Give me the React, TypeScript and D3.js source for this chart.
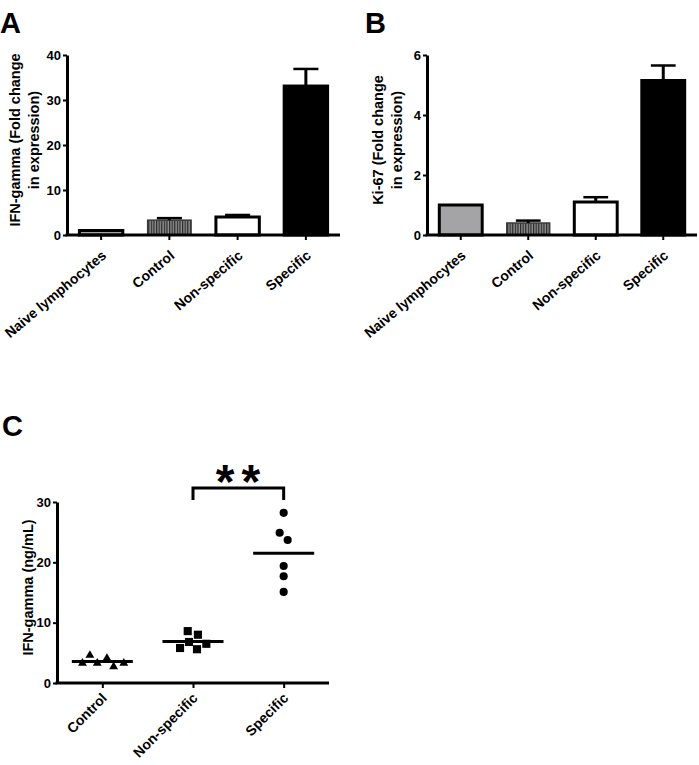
import { useEffect, useRef } from "react"
import * as d3 from "d3"

// panel A / B: qPCR fold change, mean + SEM
const barGroups = ["Naive lymphocytes", "Control", "Non-specific", "Specific"]
const ifnFoldMean = [1.0, 3.3, 4.0, 33.1]
const ifnFoldSem = [0, 0.45, 0.45, 3.8]
const ifnFoldTicks = [0, 10, 20, 30, 40]
const ki67FoldMean = [1.0, 0.4, 1.1, 5.15]
const ki67FoldSem = [0, 0.08, 0.16, 0.5]
const ki67FoldTicks = [0, 2, 4, 6]

// panel C: ELISA, individual wells
const dotGroups = ["Control", "Non-specific", "Specific"]
const controlNgMl = [4.6, 2.7, 3.3, 3.3, 3.3, 4.1]
const nonSpecificNgMl = [8.6, 8.0, 6.8, 6.5, 5.8, 5.6]
const specificNgMl = [28.2, 24.9, 23.7, 19.4, 17.7, 15.1]
const ngMlTicks = [0, 10, 20, 30]

const FONT = "'Liberation Sans', Arial, Helvetica, sans-serif"
const barFills = ["#a4a4a6", "url(#stripes)", "#ffffff", "#000000"]
const barStrokes = ["#000", "#3a3a3a", "#000", "#000"]

function styleAxis(g, fontSize = 13) {
    g.select(".domain").attr("stroke", "#000").attr("stroke-width", 3)
    g.selectAll(".tick line").attr("stroke", "#000").attr("stroke-width", 2)
    g.selectAll(".tick text")
        .attr("fill", "#000")
        .attr("font-family", FONT)
        .attr("font-weight", 700)
        .attr("font-size", fontSize)
    g.attr("font-family", null).attr("font-size", null)
}

function drawBarPanel(svg, opts) {
    const { left, right, top, bottom, mean, sem, ticks, title, titleX, letter, letterX, angle } = opts

    const x = d3.scaleBand()
        .domain(barGroups)
        .range([left, right])
        .paddingInner(0.32)
        .paddingOuter(0.16)
    const y = d3.scaleLinear()
        .domain([0, ticks[ticks.length - 1]])
        .range([bottom, top])

    const g = svg.append("g")

    g.selectAll("rect.bar")
        .data(barGroups)
        .join("rect")
        .attr("class", "bar")
        .attr("x", d => x(d) + 1.5)
        .attr("width", x.bandwidth() - 3)
        .attr("y", (d, i) => y(mean[i]))
        .attr("height", (d, i) => bottom - y(mean[i]))
        .attr("fill", (d, i) => barFills[i])
        .attr("stroke", (d, i) => barStrokes[i])
        .attr("stroke-width", (d, i) => (i === 1 ? 1.5 : 3))

    const err = g.append("g")
    barGroups.forEach((d, i) => {
        if (!sem[i]) return
        const cx = x(d) + x.bandwidth() / 2
        const capHalf = x.bandwidth() * 0.27
        err.append("line")
            .attr("x1", cx).attr("x2", cx)
            .attr("y1", y(mean[i])).attr("y2", y(mean[i] + sem[i]))
            .attr("stroke", "#000").attr("stroke-width", 3)
        err.append("line")
            .attr("x1", cx - capHalf).attr("x2", cx + capHalf)
            .attr("y1", y(mean[i] + sem[i])).attr("y2", y(mean[i] + sem[i]))
            .attr("stroke", "#000").attr("stroke-width", 2.5)
    })

    const yAxis = g.append("g")
        .attr("transform", `translate(${left},0)`)
        .call(d3.axisLeft(y).tickValues(ticks).tickFormat(d3.format("d")).tickSize(4).tickSizeOuter(0).tickPadding(2))
    styleAxis(yAxis)

    const xAxis = g.append("g")
        .attr("transform", `translate(0,${bottom})`)
        .call(d3.axisBottom(x).tickSize(5).tickSizeOuter(0))
    styleAxis(xAxis, 14)
    xAxis.select(".domain").attr("d", `M${left - 1.5},0H${right}`)
    xAxis.selectAll(".tick text")
        .attr("x", 0).attr("y", 0).attr("dy", 0)
        .attr("text-anchor", "end")
        .attr("transform", `translate(6,22) rotate(${angle})`)

    title.forEach((line, i) => {
        g.append("text")
            .attr("transform", `translate(${titleX + i * 19},${(top + bottom) / 2 - 5}) rotate(-90)`)
            .attr("text-anchor", "middle")
            .attr("font-family", FONT)
            .attr("font-weight", 700)
            .attr("font-size", 14.5)
            .text(line)
    })

    svg.append("text")
        .attr("x", letterX).attr("y", 33)
        .attr("font-family", FONT)
        .attr("font-weight", 700)
        .attr("font-size", 29)
        .text(letter)
}

function swarm(values, cx, y, r) {
    const nodes = values.map(v => ({ v, x: cx, y: y(v), fy: y(v) }))
    const sim = d3.forceSimulation(nodes)
        .force("x", d3.forceX(cx).strength(0.15))
        .force("collide", d3.forceCollide(r).iterations(4))
        .stop()
    for (let i = 0; i < 300; i++) sim.tick()
    return nodes
}

function drawDotPanel(svg) {
    const left = 57, right = 329, top = 502, bottom = 683
    const x = d3.scalePoint().domain(dotGroups).range([left, right]).padding(0.5)
    const y = d3.scaleLinear().domain([0, 30]).range([bottom, top])
    const series = [controlNgMl, nonSpecificNgMl, specificNgMl]
    const shapes = [
        d3.symbol(d3.symbolTriangle, 34),
        d3.symbol(d3.symbolSquare, 66),
        d3.symbol(d3.symbolCircle, 52),
    ]

    const g = svg.append("g")

    series.forEach((vals, gi) => {
        const cx = x(dotGroups[gi])
        const nodes = swarm(vals, cx, y, 5.4)
        g.append("g")
            .selectAll("path")
            .data(nodes)
            .join("path")
            .attr("transform", d => `translate(${d.x},${d.y})`)
            .attr("d", shapes[gi])
            .attr("fill", "#000")
        const m = d3.mean(vals)
        g.append("line")
            .attr("x1", cx - 30.5).attr("x2", cx + 30.5)
            .attr("y1", y(m)).attr("y2", y(m))
            .attr("stroke", "#000").attr("stroke-width", 3)
    })

    const yAxis = g.append("g")
        .attr("transform", `translate(${left},0)`)
        .call(d3.axisLeft(y).tickValues(ngMlTicks).tickSize(4).tickSizeOuter(0).tickPadding(2))
    styleAxis(yAxis)

    const xAxis = g.append("g")
        .attr("transform", `translate(0,${bottom})`)
        .call(d3.axisBottom(x).tickSize(5).tickSizeOuter(0))
    styleAxis(xAxis, 14)
    xAxis.select(".domain").attr("d", `M${left - 1.5},0H${right}`)
    xAxis.selectAll(".tick text")
        .attr("x", 0).attr("y", 0).attr("dy", 0)
        .attr("text-anchor", "end")
        .attr("transform", "translate(5,16) rotate(-45)")

    g.append("text")
        .attr("transform", `translate(33,${(top + bottom) / 2 - 5}) rotate(-90)`)
        .attr("text-anchor", "middle")
        .attr("font-family", FONT)
        .attr("font-weight", 700)
        .attr("font-size", 14.5)
        .text("IFN-gamma (ng/mL)")

    // significance bracket Non-specific vs Specific
    const x1 = x("Non-specific"), x2 = x("Specific")
    g.append("path")
        .attr("d", `M${x1},500V488H${x2}V500`)
        .attr("fill", "none")
        .attr("stroke", "#000")
        .attr("stroke-width", 3)
    g.append("text")
        .attr("x", (x1 + x2) / 2 - 22.5)
        .attr("y", 498)
        .attr("font-family", FONT)
        .attr("font-weight", 700)
        .attr("font-size", 48)
        .attr("letter-spacing", 7)
        .text("**")

    svg.append("text")
        .attr("x", 2).attr("y", 436)
        .attr("font-family", FONT)
        .attr("font-weight", 700)
        .attr("font-size", 29)
        .text("C")
}

export default function App() {
    const ref = useRef(null)

    useEffect(() => {
        const svg = d3.select(ref.current)
        svg.selectAll("*").remove()

        const defs = svg.append("defs")
        const pat = defs.append("pattern")
            .attr("id", "stripes")
            .attr("patternUnits", "userSpaceOnUse")
            .attr("width", 2.6)
            .attr("height", 4)
        pat.append("rect").attr("width", 2.6).attr("height", 4).attr("fill", "#8e8e8e")
        pat.append("rect").attr("width", 1.2).attr("height", 4).attr("fill", "#2a2a2a")

        drawBarPanel(svg, {
            left: 67, right: 340, top: 55, bottom: 235,
            mean: ifnFoldMean, sem: ifnFoldSem, ticks: ifnFoldTicks,
            title: ["IFN-gamma (Fold change", "in expression)"], titleX: 20,
            letter: "A", letterX: 0, angle: -40,
        })
        drawBarPanel(svg, {
            left: 427, right: 697, top: 55, bottom: 235,
            mean: ki67FoldMean, sem: ki67FoldSem, ticks: ki67FoldTicks,
            title: ["Ki-67 (Fold change", "in expression)"], titleX: 383,
            letter: "B", letterX: 365, angle: -40,
        })
        drawDotPanel(svg)
    }, [])

    return (
        <div style={{ position: "absolute", left: 0, top: 0, background: "#fff" }}>
            <svg ref={ref} width={699} height={765} style={{ display: "block" }} />
        </div>
    )
}
